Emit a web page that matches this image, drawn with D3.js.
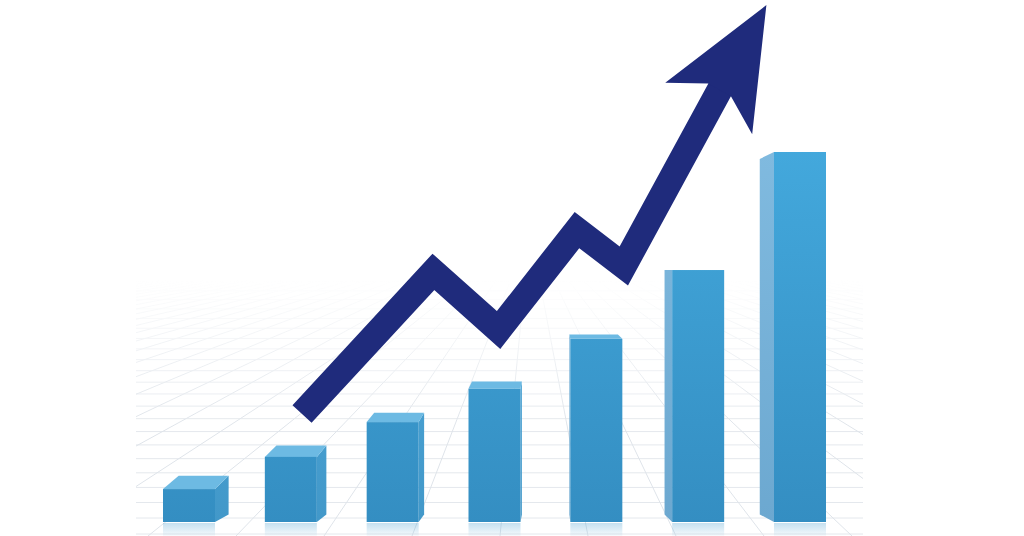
<!DOCTYPE html>
<html>
<head>
<meta charset="utf-8">
<script src="https://cdn.jsdelivr.net/npm/d3@7"></script>
<style>
  html, body { margin: 0; padding: 0; background: #ffffff; }
  svg { display: block; }
</style>
</head>
<body>
<svg id="chart" width="1024" height="536"></svg>
<script>
// ---- data ----
const categories = ["1", "2", "3", "4", "5", "6", "7"];
const barValues = [8.9, 17.6, 27, 36, 49.5, 68.1, 100];
// arrow polyline, x in category-index units, y in value units (last point = arrow tip)
const arrowX = [1.11, 2.40, 3.04, 3.81, 4.27, 5.21, 5.67];
const arrowY = [29.2, 67.6, 51.9, 78.9, 69.2, 116.8, 139.7];

// ---- setup ----
const W = 1024, H = 536;
const svg = d3.select("#chart");
const defs = svg.append("defs");

const xBar = d3.scalePoint().domain(categories).range([189, 800]);
const xIdx = d3.scaleLinear().domain([0, categories.length - 1]).range([189, 800]);
const y = d3.scaleLinear().domain([0, 100]).range([522, 152]);
const barW = 52;

// perspective helpers
const vx = 555, vy = 268;
function back(p, bottom) {
  const kx = p[0] < vx ? 0.04 : 0.065;
  const ky = bottom ? 0.03 : 0.06;
  return [p[0] + kx * (vx - p[0]), p[1] + ky * (vy - p[1])];
}

// ---- gradients ----
const gFront = defs.append("linearGradient").attr("id", "gFront")
  .attr("gradientUnits", "userSpaceOnUse").attr("x1", 0).attr("x2", 0).attr("y1", 152).attr("y2", 522);
gFront.append("stop").attr("offset", 0).attr("stop-color", "#43a8dc");
gFront.append("stop").attr("offset", 1).attr("stop-color", "#348ec2");

const gSide = defs.append("linearGradient").attr("id", "gSide")
  .attr("gradientUnits", "userSpaceOnUse").attr("x1", 0).attr("x2", 0).attr("y1", 152).attr("y2", 522);
gSide.append("stop").attr("offset", 0).attr("stop-color", "#52ade0");
gSide.append("stop").attr("offset", 1).attr("stop-color", "#4298c9");

const gLeft = defs.append("linearGradient").attr("id", "gLeft")
  .attr("gradientUnits", "userSpaceOnUse").attr("x1", 0).attr("x2", 0).attr("y1", 152).attr("y2", 522);
gLeft.append("stop").attr("offset", 0).attr("stop-color", "#80badf");
gLeft.append("stop").attr("offset", 1).attr("stop-color", "#6ca8d0");

const gRefl = defs.append("linearGradient").attr("id", "gRefl")
  .attr("x1", 0).attr("x2", 0).attr("y1", 0).attr("y2", 1);
gRefl.append("stop").attr("offset", 0).attr("stop-color", "#5aa7d3").attr("stop-opacity", 0.35);
gRefl.append("stop").attr("offset", 1).attr("stop-color", "#5aa7d3").attr("stop-opacity", 0.05);

// fade mask for floor grid
const gMask = defs.append("linearGradient").attr("id", "gMask")
  .attr("gradientUnits", "userSpaceOnUse").attr("x1", 0).attr("x2", 0).attr("y1", 280).attr("y2", 430);
gMask.append("stop").attr("offset", 0).attr("stop-color", "#fff").attr("stop-opacity", 0);
gMask.append("stop").attr("offset", 1).attr("stop-color", "#fff").attr("stop-opacity", 1);
const mask = defs.append("mask").attr("id", "floorMask");
mask.append("rect").attr("x", 0).attr("y", 0).attr("width", W).attr("height", H).attr("fill", "url(#gMask)");

defs.append("clipPath").attr("id", "floorClip")
  .append("rect").attr("x", 136).attr("y", 280).attr("width", 727).attr("height", 260);

// ---- floor grid ----
const floor = svg.append("g").attr("clip-path", "url(#floorClip)").attr("mask", "url(#floorMask)");
let rowY = 534, step = 16;
const rows = [];
while (rowY > 280) { rows.push(rowY); rowY -= step; step *= 0.97; }
floor.selectAll("line.row").data(rows).join("line")
  .attr("x1", 136).attr("x2", 863).attr("y1", d => d).attr("y2", d => d)
  .attr("stroke", "#e4e8ed").attr("stroke-width", 1);
const gvx = 530, gvy = 230;
const cols = d3.range(-1700, 2800, 88);
floor.selectAll("line.col").data(cols).join("line")
  .attr("x1", gvx).attr("y1", gvy).attr("x2", d => d).attr("y2", 536)
  .attr("stroke", "#dfe4ea").attr("stroke-width", 1);

// ---- reflections ----
svg.append("g").selectAll("rect").data(categories).join("rect")
  .attr("x", d => xBar(d) - barW / 2).attr("y", 523)
  .attr("width", barW).attr("height", 13)
  .attr("fill", "url(#gRefl)");

// ---- bars ----
const bars = svg.append("g").selectAll("g").data(categories.map((c, i) => ({ c, v: barValues[i] }))).join("g");
bars.each(function (d) {
  const g = d3.select(this);
  const cx = xBar(d.c);
  const x0 = cx - barW / 2, x1 = cx + barW / 2;
  const yt = y(d.v), yb = y(0);
  const ftl = [x0, yt], ftr = [x1, yt], fbl = [x0, yb], fbr = [x1, yb];
  const btl = back(ftl), btr = back(ftr), bbl = back(fbl, true), bbr = back(fbr, true);
  const poly = pts => "M" + pts.map(p => p.join(",")).join("L") + "Z";
  if (btr[0] > x1 + 0.5) {
    g.append("path").attr("d", poly([ftr, btr, bbr, fbr])).attr("fill", "url(#gSide)");
  }
  if (btl[0] < x0 - 0.5) {
    g.append("path").attr("d", poly([ftl, btl, bbl, fbl])).attr("fill", "url(#gLeft)");
  }
  if (btl[1] < yt - 0.5) {
    g.append("path").attr("d", poly([ftl, ftr, btr, btl])).attr("fill", "#6dbae3");
  }
  g.append("rect").attr("x", x0).attr("y", yt).attr("width", barW).attr("height", yb - yt)
    .attr("fill", "url(#gFront)");
});

// ---- arrow ----
const pts = arrowX.map((xv, i) => [xIdx(xv), y(arrowY[i])]);
const B = pts[pts.length - 2];
const T = pts[pts.length - 1];
const dx = T[0] - B[0], dy = T[1] - B[1];
const len = Math.hypot(dx, dy);
const u = [dx / len, dy / len];
const rn = [-u[1], u[0]];
const P = (a, b) => [B[0] + a * u[0] + b * rn[0], B[1] + a * u[1] + b * rn[1]];
// shaft extends a little into the head to avoid a seam
const shaft = pts.slice(0, pts.length - 2).concat([P(12, 0)]);
const arrowColor = "#1f2b7c";
svg.append("path")
  .attr("d", d3.line()(shaft))
  .attr("fill", "none")
  .attr("stroke", arrowColor)
  .attr("stroke-width", 26)
  .attr("stroke-linejoin", "miter")
  .attr("stroke-miterlimit", 10)
  .attr("stroke-linecap", "butt");
const head = [P(0, -13), P(-20, -51), T, P(-23, 50), P(0, 13)];
svg.append("path")
  .attr("d", "M" + head.map(p => p.join(",")).join("L") + "Z")
  .attr("fill", arrowColor);
</script>
</body>
</html>
